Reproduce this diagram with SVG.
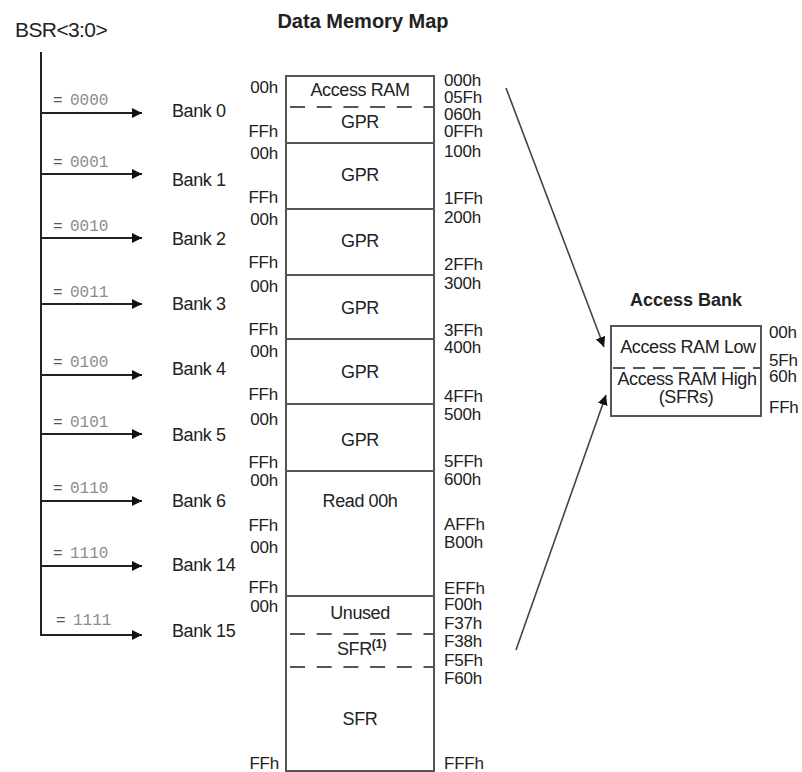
<svg xmlns="http://www.w3.org/2000/svg" width="802" height="772" viewBox="0 0 802 772">
<style>
.t{font-family:"Liberation Sans",Arial,sans-serif;font-size:18px;letter-spacing:-0.4px;fill:#222}
.a{font-size:17px;letter-spacing:-0.2px}
.c{text-anchor:middle}
.e{text-anchor:end}
.h{font-weight:bold;font-size:20px;letter-spacing:0}
.m{font-family:"Liberation Mono","Courier New",monospace;font-size:16px;fill:#8c8c8c}
.eq{fill:#555}
.w{stroke:#222;stroke-width:2;fill:none}
.bx{stroke:#555;stroke-width:2;fill:#fff}
.dv{stroke:#555;stroke-width:2}
.ds{stroke:#555;stroke-width:2;stroke-dasharray:15 11.7}
.ds2{stroke:#555;stroke-width:2;stroke-dasharray:12 8}
.ar{stroke:#444;stroke-width:1.6;fill:none}
</style>
<defs>
<marker id="ah" markerUnits="userSpaceOnUse" markerWidth="12" markerHeight="10" refX="10" refY="5" orient="auto">
<path d="M0,0 L10,5 L0,10 z" fill="#111"/>
</marker>
</defs>

<g id="title">
<text class="t h c" x="363" y="28">Data Memory Map</text>
</g>

<g id="bsr">
<text class="t" x="15" y="37" style="font-size:21px;letter-spacing:-0.6px">BSR&lt;3:0&gt;</text>
</g>

<g id="connectors">
<line class="w" x1="41" y1="52" x2="41" y2="635"/>
<line class="w" x1="40" y1="113" x2="142" y2="113" marker-end="url(#ah)"/>
<line class="w" x1="40" y1="174" x2="142" y2="174" marker-end="url(#ah)"/>
<line class="w" x1="40" y1="238" x2="142" y2="238" marker-end="url(#ah)"/>
<line class="w" x1="40" y1="304" x2="142" y2="304" marker-end="url(#ah)"/>
<line class="w" x1="40" y1="375" x2="142" y2="375" marker-end="url(#ah)"/>
<line class="w" x1="40" y1="434" x2="142" y2="434" marker-end="url(#ah)"/>
<line class="w" x1="40" y1="501" x2="142" y2="501" marker-end="url(#ah)"/>
<line class="w" x1="40" y1="566" x2="142" y2="566" marker-end="url(#ah)"/>
<line class="w" x1="40" y1="635" x2="142" y2="635" marker-end="url(#ah)"/>
<line class="ar" x1="506" y1="88" x2="604" y2="347" marker-end="url(#ah)"/>
<line class="ar" x1="516" y1="650" x2="606" y2="395" marker-end="url(#ah)"/>
</g>

<g id="bsr-values">
<text class="m" x="53" y="105"><tspan class="eq">=</tspan><tspan x="70">0000</tspan></text>
<text class="m" x="53" y="167"><tspan class="eq">=</tspan><tspan x="70">0001</tspan></text>
<text class="m" x="53" y="231"><tspan class="eq">=</tspan><tspan x="70">0010</tspan></text>
<text class="m" x="53" y="297"><tspan class="eq">=</tspan><tspan x="70">0011</tspan></text>
<text class="m" x="53" y="367"><tspan class="eq">=</tspan><tspan x="70">0100</tspan></text>
<text class="m" x="53" y="427"><tspan class="eq">=</tspan><tspan x="70">0101</tspan></text>
<text class="m" x="53" y="493"><tspan class="eq">=</tspan><tspan x="70">0110</tspan></text>
<text class="m" x="53" y="558"><tspan class="eq">=</tspan><tspan x="70">1110</tspan></text>
<text class="m" x="56" y="625"><tspan class="eq">=</tspan><tspan x="73">1111</tspan></text>
</g>

<g id="bank-labels">
<text class="t" x="172" y="117">Bank 0</text>
<text class="t" x="172" y="186">Bank 1</text>
<text class="t" x="172" y="245">Bank 2</text>
<text class="t" x="172" y="310">Bank 3</text>
<text class="t" x="172" y="375">Bank 4</text>
<text class="t" x="172" y="441">Bank 5</text>
<text class="t" x="172" y="507">Bank 6</text>
<text class="t" x="172" y="571">Bank 14</text>
<text class="t" x="172" y="637">Bank 15</text>
</g>

<g id="memory-map">
<rect class="bx" x="286" y="76" width="148" height="695"/>
<line class="ds" x1="286" y1="107" x2="434" y2="107" stroke-dashoffset="-4"/>
<line class="dv" x1="286" y1="143" x2="434" y2="143"/>
<line class="dv" x1="286" y1="209" x2="434" y2="209"/>
<line class="dv" x1="286" y1="275" x2="434" y2="275"/>
<line class="dv" x1="286" y1="339" x2="434" y2="339"/>
<line class="dv" x1="286" y1="404" x2="434" y2="404"/>
<line class="dv" x1="286" y1="471" x2="434" y2="471"/>
<line class="dv" x1="286" y1="596" x2="434" y2="596"/>
<line class="ds" x1="286" y1="634" x2="434" y2="634" stroke-dashoffset="-4"/>
<line class="ds" x1="286" y1="667" x2="434" y2="667" stroke-dashoffset="-4"/>
</g>

<g id="seg-bank0">
<text class="t c" x="360" y="96">Access RAM</text>
<text class="t c" x="360" y="128">GPR</text>
<text class="t a e" x="278" y="93">00h</text>
<text class="t a e" x="278" y="137">FFh</text>
</g>
<g id="seg-bank1">
<text class="t c" x="360" y="181">GPR</text>
<text class="t a e" x="278" y="159">00h</text>
<text class="t a e" x="278" y="203">FFh</text>
</g>
<g id="seg-bank2">
<text class="t c" x="360" y="247">GPR</text>
<text class="t a e" x="278" y="225">00h</text>
<text class="t a e" x="278" y="268">FFh</text>
</g>
<g id="seg-bank3">
<text class="t c" x="360" y="314">GPR</text>
<text class="t a e" x="278" y="292">00h</text>
<text class="t a e" x="278" y="335">FFh</text>
</g>
<g id="seg-bank4">
<text class="t c" x="360" y="378">GPR</text>
<text class="t a e" x="278" y="357">00h</text>
<text class="t a e" x="278" y="400">FFh</text>
</g>
<g id="seg-bank5">
<text class="t c" x="360" y="446">GPR</text>
<text class="t a e" x="278" y="425">00h</text>
<text class="t a e" x="278" y="468">FFh</text>
</g>
<g id="seg-bank6-14">
<text class="t c" x="360" y="507">Read 00h</text>
<text class="t a e" x="278" y="486">00h</text>
<text class="t a e" x="278" y="531">FFh</text>
<text class="t a e" x="278" y="553">00h</text>
<text class="t a e" x="278" y="593">FFh</text>
</g>
<g id="seg-bank15">
<text class="t c" x="360" y="619">Unused</text>
<text class="t" x="337" y="655">SFR<tspan dy="-7" style="font-size:12px;font-weight:bold;letter-spacing:0">(1)</tspan></text>
<text class="t c" x="360" y="725">SFR</text>
<text class="t a e" x="278" y="612">00h</text>
<text class="t a e" x="279" y="769">FFh</text>
</g>

<g id="addresses">
<text class="t a" x="444" y="86">000h</text>
<text class="t a" x="444" y="103">05Fh</text>
<text class="t a" x="444" y="120">060h</text>
<text class="t a" x="444" y="137">0FFh</text>
<text class="t a" x="444" y="157">100h</text>
<text class="t a" x="444" y="204">1FFh</text>
<text class="t a" x="444" y="223">200h</text>
<text class="t a" x="444" y="270">2FFh</text>
<text class="t a" x="444" y="289">300h</text>
<text class="t a" x="444" y="336">3FFh</text>
<text class="t a" x="444" y="353">400h</text>
<text class="t a" x="444" y="402">4FFh</text>
<text class="t a" x="444" y="420">500h</text>
<text class="t a" x="444" y="467">5FFh</text>
<text class="t a" x="444" y="485">600h</text>
<text class="t a" x="444" y="530">AFFh</text>
<text class="t a" x="444" y="548">B00h</text>
<text class="t a" x="444" y="594">EFFh</text>
<text class="t a" x="444" y="610">F00h</text>
<text class="t a" x="444" y="629">F37h</text>
<text class="t a" x="444" y="647">F38h</text>
<text class="t a" x="444" y="666">F5Fh</text>
<text class="t a" x="444" y="684">F60h</text>
<text class="t a" x="444" y="769">FFFh</text>
</g>

<g id="access-bank">
<text class="t h c" x="686" y="306" style="font-size:18px">Access Bank</text>
<rect class="bx" x="611" y="326" width="150" height="90"/>
<line class="ds2" x1="611" y1="368" x2="761" y2="368" stroke-dashoffset="-2"/>
<text class="t c" x="688" y="353">Access RAM Low</text>
<text class="t c" x="687" y="385">Access RAM High</text>
<text class="t c" x="686" y="403">(SFRs)</text>
<text class="t a" x="769" y="338">00h</text>
<text class="t a" x="769" y="366">5Fh</text>
<text class="t a" x="769" y="382">60h</text>
<text class="t a" x="769" y="413">FFh</text>
</g>
</svg>
